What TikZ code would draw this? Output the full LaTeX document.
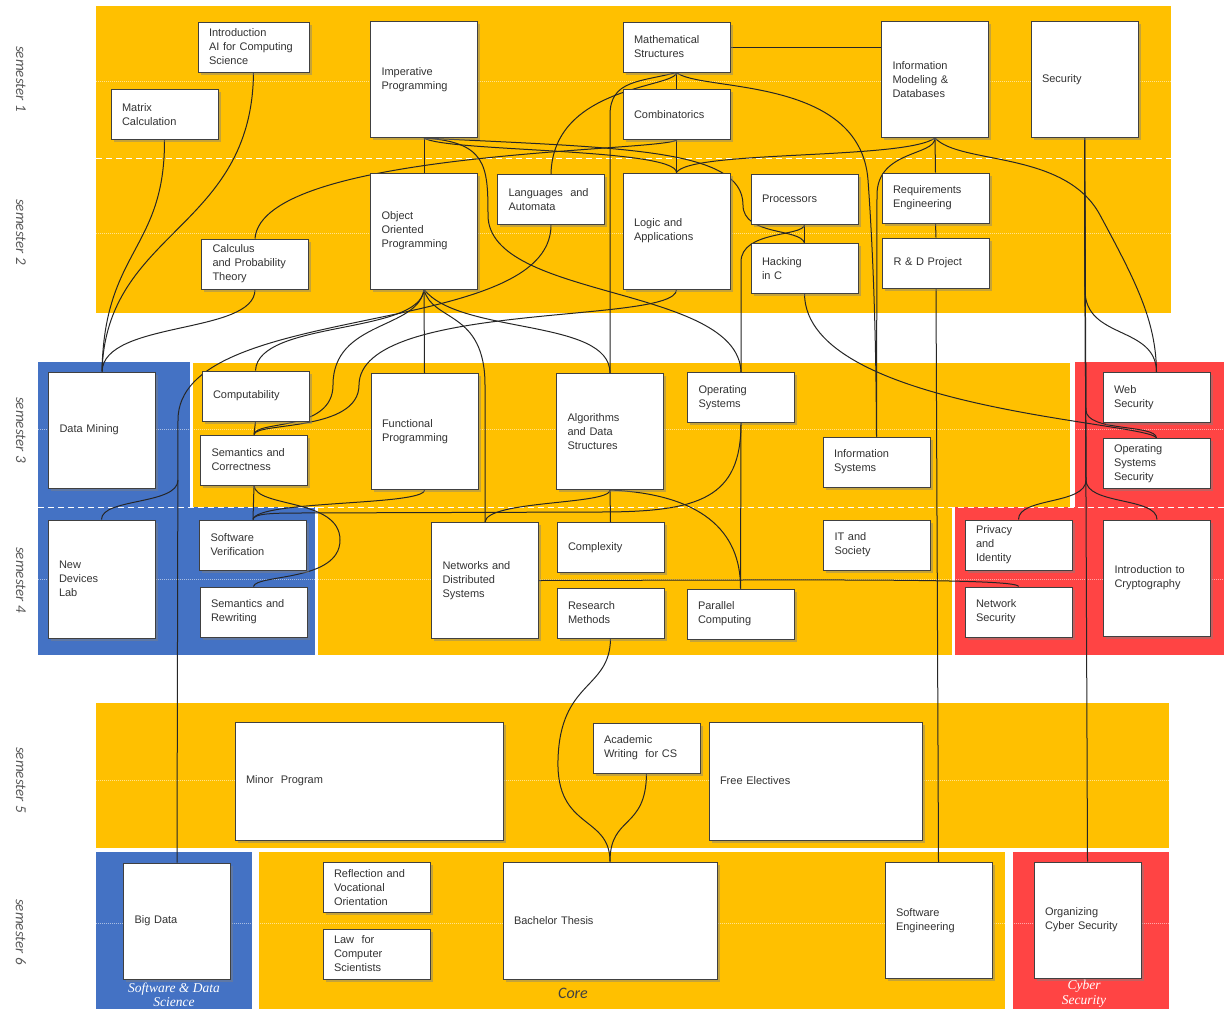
\documentclass[tikz,border=0pt]{standalone}
\usepackage{fontspec}
\setmainfont{Liberation Sans}
\newfontfamily\semfont{Carlito}
\newfontfamily\trackfont{Liberation Serif}
\usetikzlibrary{shadows}
\definecolor{coreyellow}{HTML}{FFC000}
\definecolor{sdsblue}{HTML}{4472C4}
\definecolor{cyberred}{HTML}{FF4444}
\definecolor{semgray}{HTML}{595959}
\pgfdeclarelayer{bands}
\pgfdeclarelayer{links}
\pgfsetlayers{bands,links,main}

\begin{document}
\begin{tikzpicture}[x=1pt, y=-1pt,
  course/.style={draw=black!75, line width=1pt, fill=white,
    drop shadow={shadow xshift=2.5pt, shadow yshift=-2.5pt, opacity=.45},
    inner xsep=11pt, inner ysep=0pt, align=left, text=black!80,
    font=\fontsize{11}{14}\selectfont},
  shortbox/.style={course, minimum height=50pt, text width=85pt},
  tallbox/.style={course, minimum height=116pt, text width=85pt},
  link/.style={draw=black!85, line width=1pt},
  semlabel/.style={rotate=-90, text=semgray, font=\semfont\itshape\fontsize{15}{15}\selectfont},
  tracklabel/.style={text=white, align=center, font=\trackfont\itshape\fontsize{13.5}{14.5}\selectfont}]
  \useasboundingbox (0,0) rectangle (1224,1009);

  % semesters 1 and 2
  \node[shortbox, text width=89pt] (introai) at (253.5,47) {Introduction\\AI for Computing\\Science};
  \node[shortbox] (matrix) at (164.5,114.5) {Matrix\\Calculation};
  \node[tallbox] (imp) at (424,79.5) {Imperative\\Programming};
  \node[shortbox] (math) at (676.5,47) {Mathematical\\Structures};
  \node[shortbox] (comb) at (676.5,114.5) {Combinatorics};
  \node[tallbox] (infomod) at (935,79.5) {Information\\Modeling \&\\Databases};
  \node[tallbox] (sec) at (1084.5,79.5) {Security};
  \node[tallbox] (oop) at (424,231) {Object\\Oriented\\Programming};
  \node[shortbox] (langaut) at (551,199.5) {Languages~ and\\Automata};
  \node[tallbox] (logic) at (676.5,231) {Logic and\\Applications};
  \node[shortbox] (proc) at (804.5,199) {Processors};
  \node[shortbox] (hack) at (804.5,268.5) {Hacking\\in C};
  \node[shortbox] (reqeng) at (935.5,198) {Requirements\\Engineering};
  \node[shortbox] (rdproj) at (936,263) {R \& D Project};
  \node[shortbox] (calc) at (255,264) {Calculus\\and Probability\\Theory};

  % semesters 3 and 4
  \node[tallbox] (datamin) at (102,430) {Data Mining};
  \node[shortbox] (comput) at (255.5,396) {Computability};
  \node[shortbox] (semcorr) at (254,460) {Semantics and\\Correctness};
  \node[tallbox] (func) at (424.5,431.5) {Functional\\Programming};
  \node[tallbox] (algo) at (610,431.5) {Algorithms\\and Data\\Structures};
  \node[shortbox] (opsys) at (741,397.5) {Operating\\Systems};
  \node[shortbox] (infosys) at (876.5,462) {Information\\Systems};
  \node[shortbox] (websec) at (1156.5,397.5) {Web\\Security};
  \node[shortbox] (ossec) at (1156.5,463.5) {Operating\\Systems\\Security};
  \node[tallbox, minimum height=118pt] (newdev) at (101.5,579) {New\\Devices\\Lab};
  \node[shortbox] (softver) at (253,545) {Software\\Verification};
  \node[shortbox] (semrew) at (253.5,612) {Semantics and\\Rewriting};
  \node[tallbox] (netdist) at (485,580.5) {Networks and\\Distributed\\Systems};
  \node[shortbox] (complex) at (610.5,547.5) {Complexity};
  \node[shortbox] (resmeth) at (610.5,613) {Research\\Methods};
  \node[shortbox] (parcomp) at (740.5,614) {Parallel\\Computing};
  \node[shortbox] (itsoc) at (877,545) {IT and\\Society};
  \node[shortbox] (privid) at (1018.5,545) {Privacy\\and\\Identity};
  \node[shortbox] (netsec) at (1018.5,612) {Network\\Security};
  \node[tallbox] (crypto) at (1157,578) {Introduction to\\Cryptography};

  % semester 5
  \node[course, minimum height=118pt, text width=246pt] (minor) at (369,781) {Minor~ Program};
  \node[shortbox] (acadw) at (646.5,748) {Academic\\Writing~ for CS};
  \node[course, minimum height=118pt, text width=191pt] (freeel) at (815.5,781) {Free Electives};

  % semester 6
  \node[tallbox] (bigdata) at (177,921) {Big Data};
  \node[shortbox] (reflect) at (376.5,887.5) {Reflection and\\Vocational\\Orientation};
  \node[shortbox] (law) at (376.5,954) {Law~ for\\Computer\\Scientists};
  \node[course, minimum height=117pt, text width=192pt] (thesis) at (610,920.5) {Bachelor Thesis};
  \node[tallbox] (softeng) at (938.5,920.5) {Software\\Engineering};
  \node[tallbox] (orgcyber) at (1087.5,920) {Organizing\\Cyber Security};

  % row labels and tracks
  \node[semlabel] (s1) at (21,79) {semester 1};
  \node[semlabel] (s2) at (21,232) {semester 2};
  \node[semlabel] (s3) at (21,430) {semester 3};
  \node[semlabel] (s4) at (21,580) {semester 4};
  \node[semlabel] (s5) at (21,780) {semester 5};
  \node[semlabel] (s6) at (21,932) {semester 6};
  \node[tracklabel] (sdslabel) at (174,995) {Software \& Data\\Science};
  \node[text=black!75, font=\semfont\itshape\fontsize{16}{16}\selectfont] (corelabel) at (573,993) {Core};
  \node[tracklabel] (cyberlabel) at (1084,994) {Cyber\\Security};

  \begin{pgfonlayer}{bands}
    \fill[coreyellow] (96,6) rectangle (1171,313);
    \fill[sdsblue] (38,362) rectangle (190,507);
    \fill[coreyellow] (193,363) rectangle (1070,507);
    \fill[cyberred] (1075,362) rectangle (1224,507);
    \fill[sdsblue] (38,507) rectangle (315,655);
    \fill[coreyellow] (318,507) rectangle (952,655);
    \fill[cyberred] (955,507) rectangle (1224,655);
    \fill[coreyellow] (96,703) rectangle (1169,848);
    \fill[sdsblue] (96,852) rectangle (252,1009);
    \fill[coreyellow] (259,852) rectangle (1005,1009);
    \fill[cyberred] (1013,852) rectangle (1169,1009);
    % semester borders and middles
    \draw[white, line width=1pt, dash pattern=on 6pt off 4pt] (96,158) -- (1171,158);
    \draw[white, line width=1pt, dash pattern=on 6pt off 4pt] (38,507) -- (1224,507);
    \foreach \y/\xa/\xb in {81/96/1171, 233/96/1171, 429/38/1224, 579/38/1224, 780/96/1169, 923/96/1169}
      \draw[white, opacity=.55, line width=.6pt, dash pattern=on 1pt off 1pt] (\xa,\y) -- (\xb,\y);
  \end{pgfonlayer}

  \begin{pgfonlayer}{links}
    % from semester 1
    \draw[link] (matrix.south) .. controls (165,250) and (104,250) .. (datamin.north);
    \draw[link] (introai.south) .. controls (252,230) and (106,230) .. (datamin.north);
    \draw[link] (comb.south) .. controls (660,152) and (262,150) .. (calc.north);
    \draw[link] (imp.south) -- (oop.north);
    \draw[link] (imp.south) .. controls (445,152) and (676,148) .. (logic.north);
    \draw[link] (imp.south) .. controls (620,148) and (743,148) .. (743,205) .. controls (743,236) and (800,228) .. (hack.north);
    \draw[link] (imp.south) .. controls (486,142) and (488,165) .. (488,215) .. controls (488,300) and (738,285) .. (opsys.north);
    \draw[link] (math.south) -- (comb.north);
    \draw[link] (math.east) -- (math.east -| infomod.west);
    \draw[link] (math.south) .. controls (676,88) and (553,85) .. (langaut.north);
    \draw[link] (math.south) .. controls (640,82) and (610,80) .. (610,115) -- (algo.north);
    \draw[link] (math.south) .. controls (700,92) and (860,75) .. (868,180) .. controls (873,250) and (876,330) .. (infosys.north);
    \draw[link] (comb.south) -- (logic.north);
    \draw[link] (infomod.south) -- (reqeng.north);
    \draw[link] (reqeng.south) -- (rdproj.north);
    \draw[link] (rdproj.south) -- (softeng.north);
    \draw[link] (infomod.south) .. controls (905,160) and (690,150) .. (logic.north);
    \draw[link] (infomod.south) .. controls (935,156) and (877,150) .. (877,195) -- (infosys.north);
    \draw[link] (infomod.south) .. controls (960,165) and (1065,150) .. (1100,215) .. controls (1135,280) and (1156,320) .. (websec.north);
    \draw[link] (sec.south) -- (orgcyber.north);
    \draw[link] (sec.south) -- (1085,290) .. controls (1085,340) and (1156,325) .. (websec.north);
    \draw[link] (sec.south) -- (1086,410) .. controls (1086,432) and (1156,424) .. (ossec.north);
    \draw[link] (sec.south) -- (1086,480) .. controls (1086,505) and (1018.5,497) .. (privid.north);
    \draw[link] (sec.south) -- (1086,480) .. controls (1086,505) and (1157,497) .. (crypto.north);
    % from semester 2
    \draw[link] (calc.south) .. controls (255,335) and (104,320) .. (datamin.north);
    \draw[link] (hack.south) .. controls (806,410) and (1150,422) .. (ossec.north);
    \draw[link] (proc.south) -- (hack.north);
    \draw[link] (proc.south) .. controls (804,237) and (741,230) .. (741,262) -- (opsys.north);
    \draw[link] (oop.south) -- (func.north);
    \draw[link] (oop.south) .. controls (420,335) and (258,320) .. (comput.north);
    \draw[link] (oop.south) .. controls (418,330) and (333,320) .. (333,385) .. controls (333,432) and (256,420) .. (semcorr.north);
    \draw[link] (logic.south) .. controls (677,325) and (360,300) .. (359,385) .. controls (359,432) and (256,422) .. (semcorr.north);
    \draw[link] (langaut.south) .. controls (551,340) and (178,300) .. (178,420) -- (bigdata.north);
    \coordinate (bdfork) at (178,480);
    \draw[link] (bdfork) .. controls (178,505) and (101.5,498) .. (newdev.north);
    \draw[link] (oop.south) .. controls (432,322) and (485,310) .. (485,385) -- (netdist.north);
    \draw[link] (oop.south) .. controls (460,335) and (610,318) .. (algo.north);
    % from semester 3
    \draw[link] (comput.south) -- (semcorr.north);
    \draw[link] (semcorr.south) -- (softver.north);
    \draw[link] (semcorr.south) .. controls (256,508) and (340,498) .. (340,540) .. controls (340,582) and (256,574) .. (semrew.north);
    \draw[link] (func.south) .. controls (424,506) and (256,500) .. (softver.north);
    \draw[link] (opsys.south) -- (parcomp.north);
    \draw[link] (opsys.south) .. controls (741,498) and (700,512) .. (600,512) -- (300,513) .. controls (268,513) and (254,514) .. (softver.north);
    \draw[link] (algo.south) -- (complex.north);
    \draw[link] (algo.south) .. controls (700,494) and (741,530) .. (parcomp.north);
    \draw[link] (algo.south) .. controls (610,505) and (487,500) .. (netdist.north);
    % from semester 4
    \draw[link] (netdist.east) .. controls (800,580) and (1018,578) .. (netsec.north);
    \draw[link] (resmeth.south) .. controls (610,690) and (560,680) .. (558,760) .. controls (556,830) and (610,815) .. (thesis.north);
    % from semester 5
    \draw[link] (acadw.south) .. controls (646,830) and (610,815) .. (thesis.north);
  \end{pgfonlayer}
\end{tikzpicture}
\end{document}
